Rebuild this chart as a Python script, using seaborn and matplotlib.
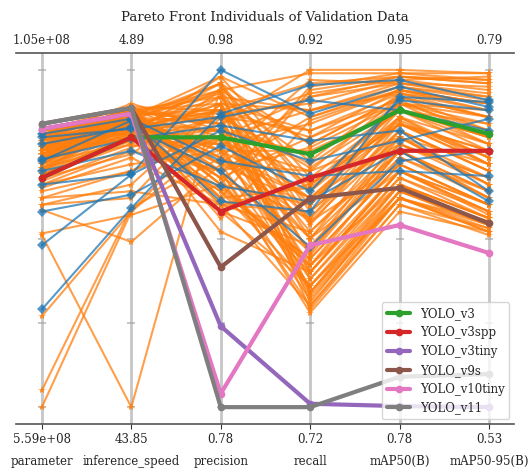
import numpy as np
import pandas as pd
import matplotlib
matplotlib.use("Agg")
import matplotlib.pyplot as plt
import seaborn as sns

# ---------------- data ----------------
columns = ["parameter", "inference_speed", "precision", "recall", "mAP50(B)", "mAP50-95(B)"]
top_labels = ["1.05e+08", "4.89", "0.98", "0.92", "0.95", "0.79"]
bottom_labels = ["5.59e+08", "43.85", "0.78", "0.72", "0.78", "0.53"]

# normalised scores (0 = bottom of axis, 1 = top of axis)
model_names = ["YOLO_v3", "YOLO_v3spp", "YOLO_v3tiny", "YOLO_v9s", "YOLO_v10tiny", "YOLO_v11"]
model_colors = ["#2ca02c", "#d62728", "#9467bd", "#8c564b", "#e377c2", "#7f7f7f"]
yolo_v3 = [0.68, 0.80, 0.80, 0.75, 0.88, 0.81]
yolo_v3spp = [0.68, 0.80, 0.58, 0.68, 0.76, 0.76]
yolo_v3tiny = [0.825, 0.87, 0.24, 0.01, 0.003, 0.0]
yolo_v9s = [0.84, 0.887, 0.415, 0.62, 0.65, 0.545]
yolo_v10tiny = [0.825, 0.87, 0.04, 0.48, 0.54, 0.457]
yolo_v11 = [0.84, 0.887, 0.0, 0.0, 0.09, 0.098]
model_scores = [yolo_v3, yolo_v3spp, yolo_v3tiny, yolo_v9s, yolo_v10tiny, yolo_v11]

blue_individuals = [
    [0.29, 0.59, 0.87, 0.955, 0.97, 0.91],
    [0.48, 0.69, 1.00, 0.87, 0.95, 0.89],
    [0.58, 0.63, 0.775, 0.64, 0.91, 0.88],
    [0.66, 0.69, 0.82, 0.73, 0.79, 0.855],
    [0.73, 0.85, 0.61, 0.58, 0.92, 0.905],
    [0.78, 0.83, 0.70, 0.475, 0.73, 0.76],
    [0.80, 0.825, 0.86, 0.91, 0.88, 0.82],
    [0.81, 0.855, 0.73, 0.685, 0.70, 0.685],
    [0.735, 0.795, 0.835, 0.79, 0.82, 0.64],
    [0.70, 0.76, 0.655, 0.61, 0.76, 0.61],
]

orange_individuals = [
    [0.00, 0.58, 0.80, 0.62, 0.78, 0.68],
    [0.05, 0.59, 0.74, 0.55, 0.72, 0.60],
    [0.27, 0.58, 0.86, 0.71, 0.88, 0.80],
    [0.51, 0.00, 0.95, 0.66, 0.84, 0.72],
    [0.515, 0.57, 0.66, 0.40, 0.70, 0.58],
    [0.585, 0.49, 0.72, 0.36, 0.62, 0.52],
    [0.60, 0.62, 0.90, 0.82, 0.93, 0.86],
    [0.62, 0.64, 0.60, 0.30, 0.60, 0.51],
    [0.64, 0.70, 0.84, 0.93, 0.97, 0.98],
    [0.66, 0.72, 0.76, 0.50, 0.82, 0.70],
    [0.68, 0.75, 0.94, 0.99, 0.99, 0.99],
    [0.69, 0.78, 0.70, 0.28, 0.58, 0.52],
    [0.70, 0.80, 0.88, 0.60, 0.90, 0.78],
    [0.70, 0.82, 0.65, 0.42, 0.66, 0.56],
    [0.71, 0.83, 0.92, 0.88, 0.95, 0.92],
    [0.72, 0.79, 0.78, 0.33, 0.62, 0.53],
    [0.72, 0.85, 0.82, 0.75, 0.88, 0.84],
    [0.73, 0.84, 0.58, 0.48, 0.74, 0.62],
    [0.73, 0.86, 0.96, 0.55, 0.80, 0.66],
    [0.74, 0.81, 0.74, 0.97, 0.96, 0.95],
    [0.74, 0.87, 0.86, 0.38, 0.68, 0.58],
    [0.75, 0.83, 0.68, 0.80, 0.90, 0.88],
    [0.75, 0.88, 0.90, 0.45, 0.76, 0.64],
    [0.76, 0.85, 0.62, 0.65, 0.86, 0.74],
    [0.76, 0.82, 0.80, 0.92, 0.98, 0.96],
    [0.77, 0.86, 0.93, 0.31, 0.64, 0.54],
    [0.77, 0.84, 0.72, 0.70, 0.92, 0.82],
    [0.78, 0.88, 0.84, 0.52, 0.78, 0.68],
    [0.78, 0.86, 0.56, 0.85, 0.94, 0.90],
    [0.79, 0.83, 0.88, 0.40, 0.70, 0.60],
    [0.79, 0.89, 0.76, 0.62, 0.84, 0.76],
    [0.80, 0.87, 0.66, 0.95, 0.99, 0.97],
    [0.80, 0.85, 0.94, 0.58, 0.82, 0.70],
    [0.80, 0.90, 0.82, 0.34, 0.62, 0.55],
    [0.81, 0.88, 0.70, 0.77, 0.90, 0.86],
    [0.81, 0.86, 0.98, 0.68, 0.88, 0.78],
    [0.82, 0.89, 0.62, 0.44, 0.72, 0.60],
    [0.82, 0.87, 0.87, 0.90, 0.97, 0.94],
    [0.74, 0.80, 0.79, 0.56, 0.86, 0.72],
    [0.71, 0.78, 0.92, 0.73, 0.93, 0.88],
    [0.69, 0.81, 0.64, 0.36, 0.66, 0.54],
    [0.77, 0.79, 0.86, 0.82, 0.91, 0.80],
    [0.75, 0.86, 0.74, 0.47, 0.80, 0.66],
    [0.73, 0.82, 0.96, 0.64, 0.85, 0.74],
    [0.79, 0.84, 0.60, 0.52, 0.76, 0.62],
    [0.76, 0.88, 0.84, 1.00, 1.00, 0.99],
    [0.72, 0.86, 0.70, 0.86, 0.94, 0.90],
    [0.78, 0.81, 0.90, 0.29, 0.60, 0.53],
    [0.80, 0.83, 0.78, 0.70, 0.80, 0.72],
    [0.70, 0.84, 0.82, 0.42, 0.74, 0.64],
    [0.74, 0.88, 0.66, 0.60, 0.88, 0.80],
    [0.81, 0.82, 0.94, 0.78, 0.92, 0.86],
    [0.67, 0.77, 0.86, 0.34, 0.64, 0.55],
    [0.77, 0.87, 0.72, 0.92, 0.96, 0.93],
    [0.65, 0.74, 0.60, 0.66, 0.84, 0.74],
    [0.62, 0.70, 0.80, 0.50, 0.70, 0.57],
    [0.60, 0.66, 0.90, 0.88, 0.93, 0.90],
    [0.79, 0.85, 0.52, 0.40, 0.68, 0.56],
    [0.82, 0.84, 0.68, 0.30, 0.62, 0.54],
    [0.76, 0.89, 0.88, 0.64, 0.90, 0.84],
    [0.71, 0.84, 0.76, 0.38, 0.66, 0.56],
    [0.74, 0.86, 0.84, 0.46, 0.78, 0.66],
    [0.78, 0.83, 0.70, 0.32, 0.62, 0.52],
    [0.80, 0.88, 0.92, 0.54, 0.84, 0.72],
    [0.76, 0.80, 0.64, 0.44, 0.72, 0.60],
    [0.72, 0.83, 0.88, 0.96, 0.98, 0.96],
    [0.69, 0.79, 0.78, 0.84, 0.94, 0.90],
    [0.81, 0.87, 0.74, 0.62, 0.86, 0.78],
    [0.75, 0.85, 0.96, 0.78, 0.92, 0.86],
    [0.73, 0.81, 0.58, 0.36, 0.64, 0.54],
    [0.79, 0.89, 0.80, 0.88, 0.96, 0.92],
    [0.77, 0.82, 0.90, 0.50, 0.76, 0.64],
    [0.70, 0.86, 0.68, 0.56, 0.82, 0.70],
    [0.82, 0.85, 0.86, 0.72, 0.90, 0.82],
    [0.74, 0.84, 0.62, 0.94, 0.98, 0.97],
    [0.68, 0.80, 0.82, 0.40, 0.70, 0.58],
    [0.76, 0.87, 0.94, 0.34, 0.66, 0.56],
    [0.78, 0.85, 0.76, 0.76, 0.88, 0.80],
    [0.72, 0.88, 0.72, 0.60, 0.84, 0.76],
    [0.80, 0.81, 0.98, 0.86, 0.95, 0.91],
    [0.66, 0.76, 0.70, 0.46, 0.76, 0.62],
    [0.75, 0.82, 0.82, 0.66, 0.88, 0.76],
    [0.79, 0.86, 0.66, 0.42, 0.70, 0.60],
    [0.73, 0.87, 0.88, 0.80, 0.94, 0.88],
    [0.77, 0.89, 0.60, 0.58, 0.80, 0.68],
]


def to_long(rows, prefix):
    recs = []
    for i, row in enumerate(rows):
        for j, v in enumerate(row):
            recs.append({"line": f"{prefix}{i}", "axis": j, "score": v})
    return pd.DataFrame(recs)


# ---------------- plotting ----------------
sns.set_style("white")
plt.rcParams["font.family"] = ["DejaVu Serif"]

fig, ax = plt.subplots(figsize=(5.32, 4.68), dpi=100)
fig.subplots_adjust(left=16 / 532, right=514 / 532, top=1 - 53 / 468, bottom=1 - 424 / 468)

xs = np.arange(len(columns))
for x in xs:
    ax.axvline(x, color="#a0a0a0", lw=2, alpha=0.6, zorder=0)
    ax.plot([x] * 5, [0, 0.25, 0.5, 0.75, 1.0], ls="none", marker="_", ms=6,
            mew=1.2, color="#a0a0a0", alpha=0.7, zorder=0)

df_orange = to_long(orange_individuals, "o")
df_blue = to_long(blue_individuals, "b")

sns.lineplot(data=df_orange, x="axis", y="score", units="line", estimator=None, sort=False,
             color="#ff7f0e", marker="*", markersize=6, markeredgewidth=0, lw=1.5,
             alpha=0.75, ax=ax, legend=False)
sns.lineplot(data=df_blue, x="axis", y="score", units="line", estimator=None, sort=False,
             color="#1f77b4", marker="D", markersize=5, markeredgewidth=0, lw=1.5,
             alpha=0.75, ax=ax, legend=False)

for name, color, scores in zip(model_names, model_colors, model_scores):
    dfm = pd.DataFrame({"axis": xs, "score": scores})
    sns.lineplot(data=dfm, x="axis", y="score", estimator=None, sort=False, color=color,
                 marker="o", markersize=5.5, markeredgewidth=0, lw=3, ax=ax, label=name)

ax.set_xlim(-0.29, 5.28)
ax.set_ylim(-0.05, 1.05)
ax.set_yticks([])
ax.set_ylabel("")
ax.set_xlabel("")
ax.set_xticks(xs)
ax.set_xticklabels(bottom_labels, fontsize=8.5)
ax.tick_params(axis="x", length=3.5, width=0.8, color="#333333", pad=3)
for s in ["left", "right"]:
    ax.spines[s].set_visible(False)
for s in ["top", "bottom"]:
    ax.spines[s].set_color("#555555")
    ax.spines[s].set_linewidth(1.2)

for x, name in zip(xs, columns):
    ax.text(x, -0.10, name, transform=ax.get_xaxis_transform(), ha="center",
            va="center", fontsize=8.5)

ax2 = ax.twiny()
ax2.set_xlim(ax.get_xlim())
ax2.set_xticks(xs)
ax2.set_xticklabels(top_labels, fontsize=8.5)
ax2.tick_params(axis="x", length=0, pad=4)
for s in ["left", "right", "bottom", "top"]:
    ax2.spines[s].set_visible(False)

ax.set_title("Pareto Front Individuals of Validation Data", fontsize=9.5, pad=23)

ax.legend(loc="lower right", fontsize=8.5, framealpha=0.8, borderaxespad=0.4)

fig.savefig("out.png", dpi=100)
